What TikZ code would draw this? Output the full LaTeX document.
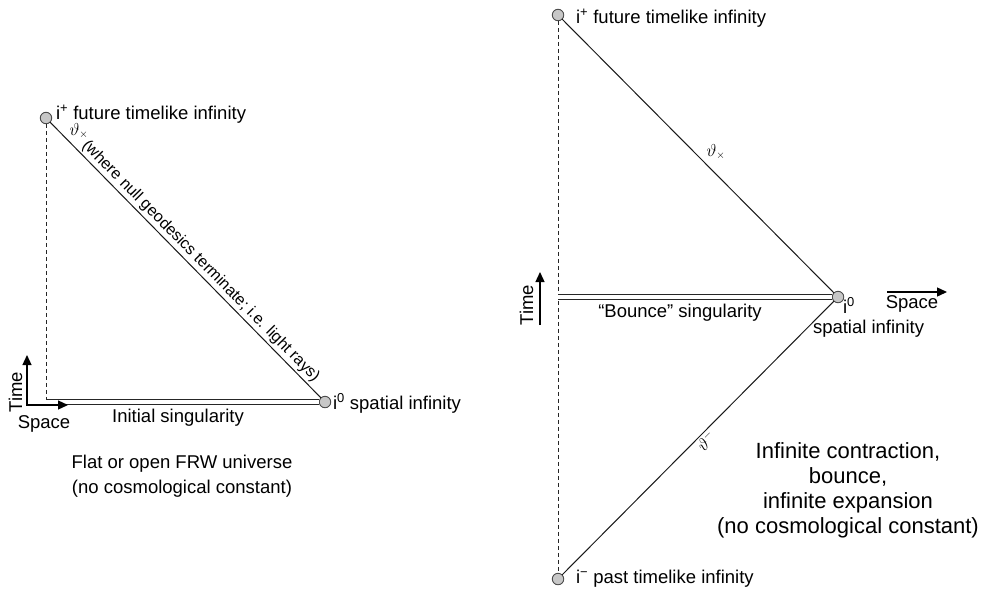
\documentclass[tikz,border=0pt]{standalone}
\usepackage{fontspec}
\setmainfont{Liberation Sans}
\usetikzlibrary{arrows.meta}
\begin{document}
\begin{tikzpicture}[x=1pt,y=-1pt,
  every node/.style={inner sep=0pt, outer sep=0pt},
  lbl/.style={font=\fontsize{18.5}{21}\selectfont, anchor=base west, text=black},
  ctext/.style={font=\fontsize{18.5}{21}\selectfont, anchor=base, text=black},
  bigtext/.style={font=\fontsize{22}{25}\selectfont, anchor=base, text=black},
  scri/.style={font=\fontsize{16}{18}\selectfont, text=black},
  inf/.style={circle, draw=black!70, fill=black!22, line width=0.9pt, minimum size=11.5pt, inner sep=0pt},
  nullray/.style={line width=1pt, draw=black!90},
  edgeline/.style={line width=0.85pt, draw=black!85, dash pattern=on 4pt off 3pt},
  sing/.style={double=white, double distance=4.4pt, line width=1.15pt, draw=black!85},
  axisarrow/.style={line width=1.3pt, draw=black, {Triangle[length=10pt,width=9pt]}-{Triangle[length=10pt,width=9pt]}},
  axisone/.style={line width=1.3pt, draw=black, -{Triangle[length=10pt,width=9pt]}},
]
\useasboundingbox (0,0) rectangle (981,592);

% ---------- Left diagram ----------
\node[inf] (ipL) at (46,118) {};
\node[inf] (izL) at (325,402) {};
\coordinate (cL) at (46,402);
\draw[edgeline] (ipL) -- (cL);
\draw[sing] (cL) -- (izL);
\draw[nullray] (ipL) -- (izL)
  node[pos=0.53, sloped, above=2.5pt, font=\fontsize{16}{18}\selectfont, text=black]
  (rayL) {(where null geodesics terminate; i.e. light rays)};

\coordinate (axL) at (27,405);
\coordinate (tL) at (27,355);
\coordinate (sL) at (68,405);
\draw[axisarrow] (tL) -- (axL) -- (sL);
\node[lbl, rotate=90, anchor=base] (timeL) at (22,392) {Time};
\node[ctext] (spaceL) at (44,428) {Space};
\node[ctext] (singL) at (178,422) {Initial singularity};
\node[lbl] (ipLl) at (56,119) {i\textsuperscript{+} future timelike infinity};
\node[lbl] (izLl) at (333,409) {i\textsuperscript{0} spatial infinity};
\node[scri] (scriL) at (79,131) {$\vartheta_{\times}$};
\node[ctext] (capL1) at (182,468) {Flat or open FRW universe};
\node[ctext] (capL2) at (182,493) {(no cosmological constant)};

% ---------- Right diagram ----------
\node[inf] (ipR) at (558,15) {};
\node[inf] (izR) at (838,297) {};
\node[inf] (imR) at (558,579) {};
\coordinate (cR) at (558,297);
\draw[edgeline] (ipR) -- (imR);
\draw[sing] (cR) -- (izR);
\draw[nullray] (ipR) -- (izR);
\draw[nullray] (imR) -- (izR);

\coordinate (tRa) at (540,325);
\coordinate (tRb) at (540,272);
\draw[axisone] (tRa) -- (tRb);
\coordinate (sRa) at (887,292);
\coordinate (sRb) at (947,292);
\draw[axisone] (sRa) -- (sRb);
\node[lbl, rotate=90, anchor=base] (timeR) at (533,305) {Time};
\node[ctext] (spaceR) at (912,308) {Space};
\node[ctext] (singR) at (680,317) {“Bounce” singularity};
\node[lbl] (izRl) at (843,313) {i\textsuperscript{0}};
\node[lbl] (izRl2) at (813,333) {spatial infinity};
\node[lbl] (ipRl) at (576,23) {i\textsuperscript{+} future timelike infinity};
\node[lbl] (imRl) at (576,583) {i\textsuperscript{−} past timelike infinity};
\node[scri] (scriR1) at (716,152) {$\vartheta_{\times}$};
\node[scri, rotate=45] (scriR2) at (706,441) {$\vartheta^{-}$};

\node[bigtext] (capR1) at (848,458) {Infinite contraction,};
\node[bigtext] (capR2) at (848,483) {bounce,};
\node[bigtext] (capR3) at (848,508) {infinite expansion};
\node[bigtext] (capR4) at (848,533) {(no cosmological constant)};
\end{tikzpicture}
\end{document}
